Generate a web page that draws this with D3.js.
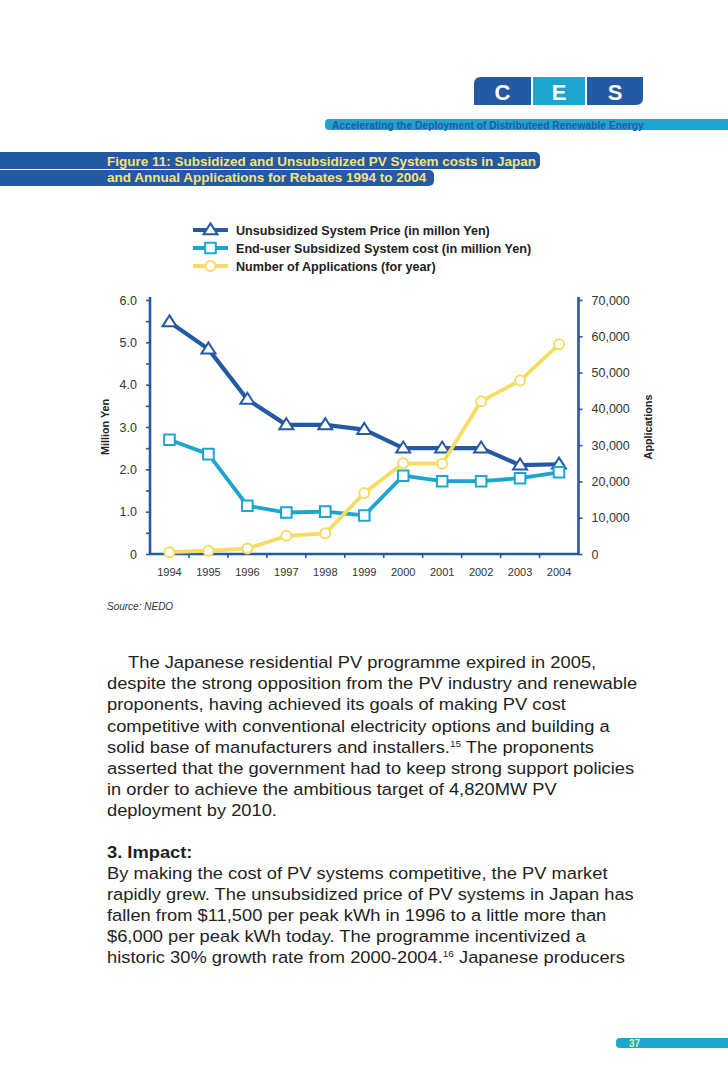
<!DOCTYPE html>
<html>
<head>
<meta charset="utf-8">
<script src="https://cdn.jsdelivr.net/npm/d3@7"></script>
<style>
  body { margin: 0; background: #fff; }
  svg { display: block; font-family: "Liberation Sans", Arial, sans-serif; }
</style>
</head>
<body>
<svg id="page"></svg>
<script>
// chart data
const years = ['1994','1995','1996','1997','1998','1999','2000','2001','2002','2003','2004'];
const unsubsidized = [5.48, 4.84, 3.65, 3.05, 3.05, 2.94, 2.50, 2.50, 2.50, 2.10, 2.12];
const subsidized = [2.70, 2.36, 1.14, 0.98, 1.00, 0.91, 1.85, 1.72, 1.72, 1.79, 1.93];
const applications = [500, 900, 1500, 5000, 5700, 16800, 25000, 24900, 42100, 47800, 57800];
const leftTicks = [0, 0.5, 1, 1.5, 2, 2.5, 3, 3.5, 4, 4.5, 5, 5.5, 6];
const rightTicks = [0, 10000, 20000, 30000, 40000, 50000, 60000, 70000];

const legendLabels = [
  'Unsubsidized System Price (in millon Yen)',
  'End-user Subsidized System cost (in million Yen)',
  'Number of Applications (for year)'
];

const bodyLines = [
  'The Japanese residential PV programme expired in 2005,',
  'despite the strong opposition from the PV industry and renewable',
  'proponents, having achieved its goals of making PV cost',
  'competitive with conventional electricity options and building a',
  'solid base of manufacturers and installers.|15| The proponents',
  'asserted that the government had to keep strong support policies',
  'in order to achieve the ambitious target of 4,820MW PV',
  'deployment by 2010.'
];
const impactLines = [
  'By making the cost of PV systems competitive, the PV market',
  'rapidly grew. The unsubsidized price of PV systems in Japan has',
  'fallen from $11,500 per peak kWh in 1996 to a little more than',
  '$6,000 per peak kWh today. The programme incentivized a',
  'historic 30% growth rate from 2000-2004.|16| Japanese producers'
];

const darkBlue = '#2459a3';
const cyan = '#1ea5cf';
const yellow = '#f6dc62';

const W = 728, H = 1092;
const svg = d3.select('#page').attr('width', W).attr('height', H);

// ---------- page header ----------
const hdr = svg.append('g');
// C E S boxes
const boxes = [
  {t: 'C', x: 474, w: 57, c: darkBlue},
  {t: 'E', x: 533, w: 52, c: cyan},
  {t: 'S', x: 587, w: 56, c: darkBlue}
];
boxes.forEach((b, i) => {
  let r = 7, y0 = 77, y1 = 105, x0 = b.x, x1 = b.x + b.w;
  let p;
  if (i === 0) {
    p = `M${x0},${y1} L${x0},${y0 + r} Q${x0},${y0} ${x0 + r},${y0} L${x1},${y0} L${x1},${y1} Z`;
  } else if (i === 2) {
    p = `M${x0},${y0} L${x1},${y0} L${x1},${y1 - r} Q${x1},${y1} ${x1 - r},${y1} L${x0},${y1} Z`;
  } else {
    p = `M${x0},${y0} L${x1},${y0} L${x1},${y1} L${x0},${y1} Z`;
  }
  hdr.append('path').attr('d', p).attr('fill', b.c);
  hdr.append('text')
    .attr('x', x0 + b.w / 2).attr('y', 100)
    .attr('text-anchor', 'middle')
    .attr('fill', '#fff')
    .style('font-weight', 'bold').style('font-size', '22px')
    .text(b.t);
});
hdr.append('rect').attr('x', 325).attr('y', 119).attr('width', 420).attr('height', 11)
  .attr('rx', 4).attr('fill', cyan);
hdr.append('text').attr('x', 332).attr('y', 128.5)
  .attr('fill', darkBlue).style('font-size', '10.3px').style('font-weight', 'bold')
  .text('Accelerating the Deployment of Distributeed Renewable Energy');

// ---------- figure title ----------
const ttl = svg.append('g');
ttl.append('rect').attr('x', -10).attr('y', 152).attr('width', 550).attr('height', 17)
  .attr('rx', 5).attr('fill', darkBlue);
ttl.append('rect').attr('x', -10).attr('y', 170).attr('width', 444).attr('height', 16)
  .attr('rx', 5).attr('fill', darkBlue);
ttl.selectAll('text')
  .data(['Figure 11: Subsidized and Unsubsidized PV System costs in Japan',
         'and Annual Applications for Rebates 1994 to 2004'])
  .join('text')
    .attr('x', 107)
    .attr('y', (d, i) => 165.5 + i * 16.5)
    .attr('fill', '#f4e27c')
    .style('font-weight', 'bold').style('font-size', '13.5px')
    .text(d => d);

// ---------- chart ----------
const margin = {left: 150, right: 578.5, top: 300, bottom: 554};

const xScale = d3.scaleBand().domain(years).range([margin.left, margin.right]);
const yLeft = d3.scaleLinear().domain([0, 6]).range([margin.bottom, margin.top]);
const yRight = d3.scaleLinear().domain([0, 70000]).range([margin.bottom, margin.top]);
const xc = d => xScale(d) + xScale.bandwidth() / 2;

const chart = svg.append('g');

// axes
const leftAxis = d3.axisLeft(yLeft)
  .tickValues(leftTicks)
  .tickSize(4).tickPadding(9)
  .tickFormat(d => d % 1 !== 0 ? '' : (d === 0 ? '0' : d.toFixed(1)));
const rightAxis = d3.axisRight(yRight)
  .tickValues(rightTicks)
  .tickSize(4).tickPadding(9)
  .tickFormat(d3.format(','));
const bottomAxis = d3.axisBottom(xScale).tickSize(0).tickPadding(14);

const styleAxis = g => {
  g.select('.domain').attr('stroke', darkBlue).attr('stroke-width', 2.6);
  g.selectAll('.tick line').attr('stroke', darkBlue).attr('stroke-width', 1.6);
  g.selectAll('.tick text').attr('fill', '#333').style('font-size', '12.5px')
    .style('font-family', '"Liberation Sans", Arial, sans-serif');
};

chart.append('g').attr('transform', `translate(0,${margin.bottom})`)
  .call(bottomAxis).call(styleAxis)
  .call(g => g.select('.domain').attr('d', `M${margin.left},0H${margin.right}`))
  .call(g => g.selectAll('.tick text').style('font-size', '11px'));

// band boundary ticks on the x axis
chart.append('g').selectAll('line')
  .data(years.slice(1))
  .join('line')
    .attr('x1', d => xScale(d)).attr('x2', d => xScale(d))
    .attr('y1', margin.bottom).attr('y2', margin.bottom + 4)
    .attr('stroke', darkBlue).attr('stroke-width', 1.6);

chart.append('g').attr('transform', `translate(${margin.left},0)`)
  .call(leftAxis).call(styleAxis)
  .call(g => g.select('.domain').attr('d', `M0,${margin.bottom + 1}V${margin.top - 3}`));
chart.append('g').attr('transform', `translate(${margin.right},0)`)
  .call(rightAxis).call(styleAxis)
  .call(g => g.select('.domain').attr('d', `M0,${margin.bottom + 1}V${margin.top - 3}`));

// axis titles
chart.append('text')
  .attr('transform', `translate(109,${(margin.top + margin.bottom) / 2}) rotate(-90)`)
  .attr('text-anchor', 'middle')
  .style('font-weight', 'bold').style('font-size', '10.8px').attr('fill', '#222')
  .text('Million Yen');
chart.append('text')
  .attr('transform', `translate(652,${(margin.top + margin.bottom) / 2}) rotate(-90)`)
  .attr('text-anchor', 'middle')
  .style('font-weight', 'bold').style('font-size', '10.8px').attr('fill', '#222')
  .text('Applications');

// series
const series = [
  {name: legendLabels[0], vals: unsubsidized, y: yLeft, color: darkBlue, marker: 'triangle', lw: 4.2},
  {name: legendLabels[1], vals: subsidized, y: yLeft, color: cyan, marker: 'square', lw: 3.8},
  {name: legendLabels[2], vals: applications, y: yRight, color: yellow, marker: 'circle', lw: 3.8}
];

const markerPath = (type, x, y) => {
  if (type === 'triangle') {
    const s = 7;
    return `M${x},${y - s * 0.95} L${x + s},${y + s * 0.62} L${x - s},${y + s * 0.62} Z`;
  }
  if (type === 'square') {
    const s = 5.3;
    return `M${x - s},${y - s} H${x + s} V${y + s} H${x - s} Z`;
  }
  const r = 5;
  return `M${x + r},${y} A${r},${r} 0 1,1 ${x - r},${y} A${r},${r} 0 1,1 ${x + r},${y} Z`;
};

series.forEach(s => {
  const pts = s.vals.map((v, i) => [xc(years[i]), s.y(v)]);
  const g = chart.append('g');
  g.append('path')
    .attr('d', d3.line()(pts))
    .attr('fill', 'none').attr('stroke', s.color)
    .attr('stroke-width', s.lw).attr('stroke-linejoin', 'round');
  g.selectAll('path.mk')
    .data(pts)
    .join('path')
      .attr('class', 'mk')
      .attr('d', d => markerPath(s.marker, d[0], d[1]))
      .attr('fill', '#fff').attr('stroke', s.color).attr('stroke-width', 2);
});

// legend
const legend = svg.append('g');
series.forEach((s, i) => {
  const y = 230 + i * 18;
  legend.append('line').attr('x1', 193).attr('x2', 228).attr('y1', y).attr('y2', y)
    .attr('stroke', s.color).attr('stroke-width', 4);
  legend.append('path').attr('d', markerPath(s.marker, 210.5, y))
    .attr('fill', '#fff').attr('stroke', s.color).attr('stroke-width', 2);
  legend.append('text').attr('x', 236).attr('y', y + 4.5)
    .style('font-weight', 'bold').style('font-size', '12.6px').attr('fill', '#222')
    .text(s.name);
});

// source line
svg.append('text').attr('x', 107).attr('y', 610)
  .style('font-style', 'italic').style('font-size', '10px').attr('fill', '#333')
  .text('Source: NEDO');

// ---------- body text ----------
const addLine = (g, str, x, y) => {
  const t = g.append('text').attr('x', x).attr('y', y);
  str.split('|').forEach((part, k) => {
    const sp = t.append('tspan').text(part);
    if (k % 2 === 1) sp.attr('dy', -6).style('font-size', '9px');
    else if (k > 0) sp.attr('dy', 6);
  });
};

// the page text is set slightly wide, so stretch it horizontally
const body = svg.append('g')
  .attr('transform', 'translate(107,0) scale(1.11,1)')
  .style('font-size', '16.5px').attr('fill', '#231f20');
bodyLines.forEach((l, i) => addLine(body, l, i === 0 ? 19 : 0, 668 + i * 21.2));

body.append('text').attr('x', 0).attr('y', 858)
  .style('font-weight', 'bold')
  .text('3. Impact:');
impactLines.forEach((l, i) => addLine(body, l, 0, 879.5 + i * 21));

// page number tab
svg.append('rect').attr('x', 616).attr('y', 1038).attr('width', 130).attr('height', 10)
  .attr('rx', 4).attr('fill', cyan);
svg.append('text').attr('x', 629).attr('y', 1047)
  .style('font-size', '10px').style('font-weight', 'bold').attr('fill', '#e6f29a')
  .text('37');
</script>
</body>
</html>
